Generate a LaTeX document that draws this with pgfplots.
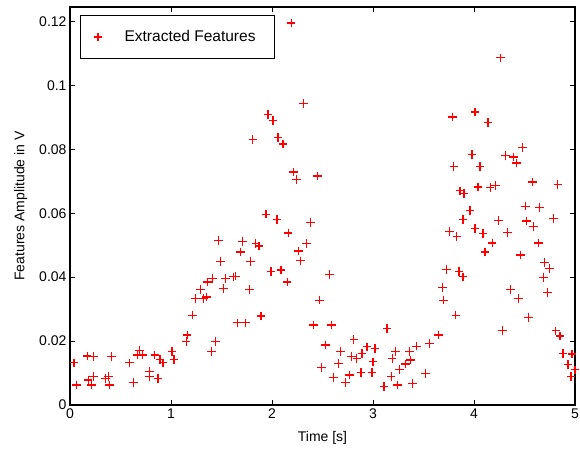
\documentclass[border=0pt]{standalone}
\usepackage{fontspec}
\setmainfont{Liberation Sans}
\usepackage{pgfplots}
\pgfplotsset{compat=1.18}
\definecolor{mred}{RGB}{255,0,0}

\begin{document}
\begin{tikzpicture}[font=\fontsize{14}{17}\selectfont]
\begin{axis}[
    scale only axis,
    width=505pt, height=398pt,
    xmin=0, xmax=5,
    ymin=0, ymax=0.1245,
    xtick={0,1,2,3,4,5},
    ytick={0,0.02,0.04,0.06,0.08,0.1,0.12},
    scaled y ticks=false,
    yticklabel style={/pgf/number format/fixed, /pgf/number format/precision=2},
    /pgf/number format/assume math mode=true,
    tick label style={font=\fontsize{14}{17}\selectfont},
    label style={font=\fontsize{14}{17}\selectfont},
    xlabel={Time [s]},
    ylabel={Features Amplitude in V},
    xlabel style={yshift=-6pt},
    ylabel style={yshift=5pt},
    axis line style={line width=1.2pt},
    major tick style={line width=0.8pt, black},
    major tick length=5pt,
    tick align=inside,
    legend style={at={(0,1)}, anchor=north west, xshift=10pt, yshift=-8pt,
        draw=black, line width=1.2pt, inner xsep=10pt, inner ysep=13pt,
        font=\fontsize{15.5}{18}\selectfont},
    legend image code/.code={
        \node[inner sep=0pt, minimum width=32pt, minimum height=8pt, anchor=west] at (0pt,0pt) {};
        \draw[#1] plot coordinates {(8pt,0pt)};},
]
\coordinate (sw) at (rel axis cs:0,0);
\coordinate (ne) at (rel axis cs:1,1);
\addplot[only marks, mark=+, mark size=4.3pt, color=mred, line width=1.3pt,
    mark options={draw=mred, solid}] coordinates {
(0.04,0.0132) (0.066,0.0063) (0.17,0.0153) (0.23,0.0151) (0.18,0.0078)
(0.21,0.0063) (0.23,0.0089) (0.35,0.0083) (0.38,0.0089) (0.39,0.0063)
(0.41,0.0151) (0.59,0.0132) (0.63,0.0070) (0.69,0.0170) (0.67,0.0156)
(0.72,0.0156) (0.79,0.0104) (0.79,0.0089) (0.84,0.0156) (0.87,0.0083)
(0.89,0.0143) (0.92,0.0132) (1.01,0.0167) (1.03,0.0143) (1.15,0.0198)
(1.16,0.0219) (1.21,0.0281) (1.24,0.0333) (1.29,0.0361) (1.32,0.0333)
(1.35,0.0338) (1.36,0.0385) (1.41,0.0396) (1.40,0.0167) (1.44,0.0198)
(1.47,0.0514) (1.49,0.0448) (1.52,0.0364) (1.54,0.0396) (1.62,0.0401)
(1.64,0.0403) (1.66,0.0257) (1.69,0.0479) (1.71,0.0511) (1.74,0.0257)
(1.78,0.0361) (1.79,0.0448) (1.84,0.0505) (1.87,0.0497) (1.89,0.0278)
(1.94,0.0597) (1.99,0.0417) (2.05,0.0580) (2.09,0.0422) (2.15,0.0385)
(2.16,0.0538) (2.26,0.0482) (2.34,0.0505) (2.28,0.0451) (2.38,0.0570)
(2.41,0.0250) (2.47,0.0328) (2.49,0.0117) (2.19,0.1195) (2.31,0.0943)
(1.96,0.0908) (2.01,0.0890) (1.81,0.0831) (2.06,0.0836) (2.11,0.0816)
(2.21,0.0729) (2.24,0.0705) (2.45,0.0716)
(2.57,0.0409) (2.59,0.0250) (2.53,0.0188) (2.61,0.0086) (2.66,0.0130)
(2.68,0.0167) (2.73,0.0070) (2.77,0.0094) (2.79,0.0151) (2.81,0.0205)
(2.84,0.0146) (2.88,0.0101) (2.89,0.0161) (2.94,0.0182) (2.99,0.0101)
(3.00,0.0135) (3.02,0.0177) (3.14,0.0240) (3.11,0.0057) (3.18,0.0089)
(3.22,0.0167) (3.19,0.0146) (3.24,0.0063) (3.26,0.0111) (3.32,0.0128)
(3.37,0.0141) (3.36,0.0167) (3.39,0.0068) (3.43,0.0184) (3.52,0.0099)
(3.56,0.0193) (3.65,0.0219) (3.70,0.0328) (3.69,0.0368) (3.73,0.0424)
(3.82,0.0281) (3.85,0.0417) (3.89,0.0401) (3.76,0.0542) (3.83,0.0528)
(3.89,0.0580) (3.96,0.0608) (4.01,0.0552) (4.09,0.0536) (4.11,0.0479)
(4.18,0.0507) (4.24,0.0578) (4.33,0.0540) (4.28,0.0234) (4.36,0.0361)
(4.44,0.0333) (4.46,0.0469) (4.54,0.0274) (4.51,0.0622) (4.65,0.0618)
(4.52,0.0576) (4.59,0.0559) (4.64,0.0507) (4.70,0.0445) (4.75,0.0427)
(4.69,0.0399) (4.73,0.0351) (4.79,0.0583) (4.81,0.0232) (4.85,0.0216)
(4.88,0.0161) (4.93,0.0127) (4.97,0.0160) (4.96,0.0089) (5.00,0.0110)
(4.26,0.1086) (3.79,0.0901) (4.01,0.0917) (4.14,0.0883) (4.48,0.0805)
(3.98,0.0783) (4.31,0.0781) (4.39,0.0776) (4.42,0.0757) (3.80,0.0747)
(4.06,0.0747) (4.58,0.0698) (4.83,0.0689) (3.86,0.0670) (3.90,0.0661)
(4.04,0.0682) (4.16,0.0680) (4.21,0.0686)
};
\addlegendentry{Extracted Features\rule{7pt}{0pt}}
\end{axis}
\pgfresetboundingbox
\path[use as bounding box] ([shift={(-70pt,-43pt)}]sw) rectangle ([shift={(5pt,7pt)}]ne);
\end{tikzpicture}
\end{document}
